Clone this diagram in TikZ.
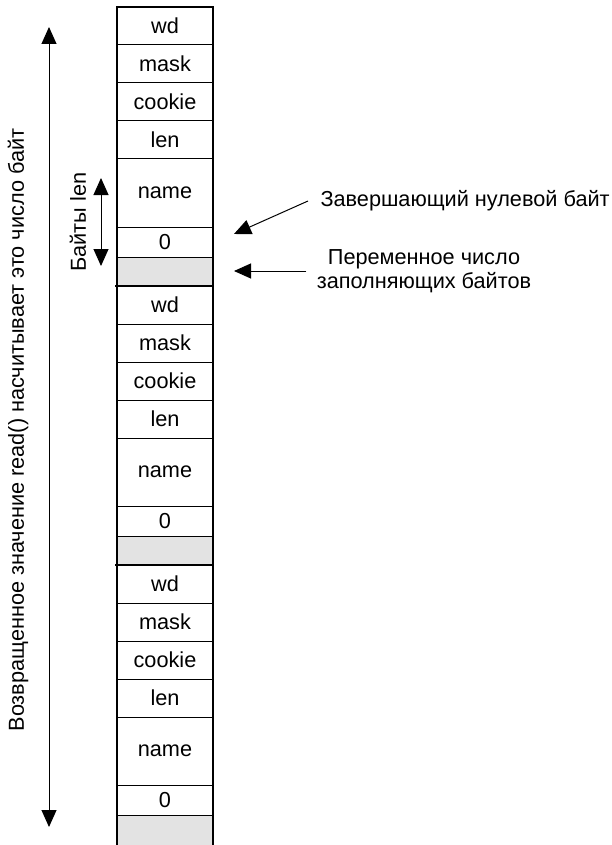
\documentclass[tikz,border=0pt]{standalone}
\usepackage{fontspec}
\setmainfont{Liberation Sans}
\usetikzlibrary{arrows.meta, positioning}

\begin{document}
\begin{tikzpicture}[x=1pt, y=-1pt, line width=1pt, >={Triangle[width=15pt, length=17pt]},
	every node/.style={font=\fontsize{21.7}{23.5}\selectfont},
	cell/.style={draw, outer sep=0pt, inner sep=0pt, minimum width=96pt, minimum height=38pt},
	namecell/.style={cell, minimum height=68pt},
	zerocell/.style={cell, minimum height=30pt},
	padcell/.style={cell, minimum height=29pt, fill=gray!22}]

	\useasboundingbox (0,0) rectangle (612,845);

	% first record
	\node [cell] (wd1) at (165,26) {wd};
	\node [cell] (mask1) [below=0pt of wd1] {mask};
	\node [cell] (cookie1) [below=0pt of mask1] {cookie};
	\node [cell] (len1) [below=0pt of cookie1] {len};
	\node [namecell] (name1) [below=0pt of len1] {name};
	\node [zerocell] (zero1) [below=0pt of name1] {0};
	\node [padcell] (pad1) [below=0pt of zero1] {};

	% second record
	\node [cell] (wd2) [below=0pt of pad1] {wd};
	\node [cell] (mask2) [below=0pt of wd2] {mask};
	\node [cell] (cookie2) [below=0pt of mask2] {cookie};
	\node [cell] (len2) [below=0pt of cookie2] {len};
	\node [namecell] (name2) [below=0pt of len2] {name};
	\node [zerocell] (zero2) [below=0pt of name2] {0};
	\node [padcell] (pad2) [below=0pt of zero2] {};

	% third record
	\node [cell] (wd3) [below=0pt of pad2] {wd};
	\node [cell] (mask3) [below=0pt of wd3] {mask};
	\node [cell] (cookie3) [below=0pt of mask3] {cookie};
	\node [cell] (len3) [below=0pt of cookie3] {len};
	\node [namecell] (name3) [below=0pt of len3] {name};
	\node [zerocell] (zero3) [below=0pt of name3] {0};
	\node [padcell, minimum height=32pt] (pad3) [below=0pt of zero3] {};

	% heavy outline and record borders
	\draw [line width=2pt] (pad3.south west) -- (wd1.north west) -- (wd1.north east) -- (pad3.south east);
	\draw [line width=2.5pt] ([xshift=-2pt]pad1.south west) -- ([xshift=1pt]pad1.south east);
	\draw [line width=2.5pt] ([xshift=-2pt]pad2.south west) -- ([xshift=1pt]pad2.south east);

	% total returned by read()
	\node [rotate=90] (retTxt) at (18,430) {Возвращенное значение read() насчитывает это число байт};
	\coordinate (retTop) at (49,27);
	\coordinate (retBot) at (49,827);
	\draw [<->] (retTop) -- (retBot);

	% len bytes
	\node [rotate=90] (lenTxt) at (78,222) {Байты len};
	\coordinate (lenTop) at (101,178);
	\coordinate (lenBot) at (101,266);
	\draw [<->] (lenTop) -- (lenBot);

	% notes on the right
	\node [anchor=west, inner sep=0pt] (termTxt) at (320,201) {Завершающий нулевой байт};
	\coordinate (termTip) at (234,234);
	\draw [->] ([xshift=-12pt]termTxt.west) -- (termTip);

	\node [align=center, inner sep=0pt] (padTxt) at (424,271) {Переменное число\\заполняющих байтов};
	\coordinate (padTip) at (234,271);
	\draw [->] ([xshift=-10pt]padTxt.west) -- (padTip);

\end{tikzpicture}
\end{document}
